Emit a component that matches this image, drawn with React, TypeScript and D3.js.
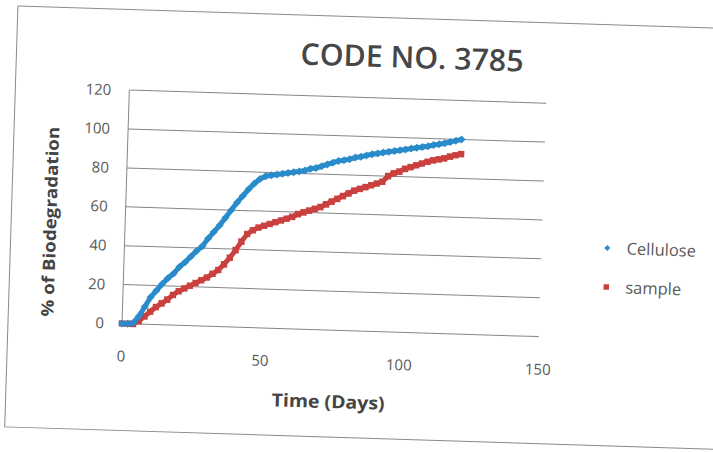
import React from 'react';
import * as d3 from 'd3';

const chartTitle = 'CODE NO. 3785';
const xTitle = 'Time (Days)';
const yTitle = '% of Biodegradation';
const seriesNames = ['Cellulose', 'sample'];
const xTicks = [0, 50, 100, 150];
const yTicks = [0, 20, 40, 60, 80, 100, 120];

const days = [
  0, 2, 4, 6, 8, 10, 12, 14, 16, 18, 20, 22, 24, 26, 28, 30, 32, 34, 36, 38, 40,
  42, 44, 46, 48, 50, 52, 54, 56, 58, 60, 62, 64, 66, 68, 70, 72, 74, 76, 78, 80,
  82, 84, 86, 88, 90, 92, 94, 96, 98, 100, 102, 104, 106, 108, 110, 112, 114, 116, 118, 120,
];

const cellulose = [
  0, 0, 0.5, 4, 9, 14, 17.5, 21, 24, 26.5, 30, 32.5, 35.5, 38.5, 41, 45, 48.5, 52, 56, 60, 64,
  67.5, 71, 74, 76.5, 78, 78.5, 79, 79.5, 80, 80.5, 81, 81.5, 82.5, 83, 84, 85, 86, 87, 87.5, 88,
  89, 89.5, 90.3, 91, 91.5, 92, 92.5, 93, 93.5, 94, 94.5, 95, 95.5, 96, 96.7, 97.2, 97.8, 98.5, 99.3, 100,
];

const sample = [
  0, 0, 0, 1.5, 4, 6.5, 9, 11, 13, 15.5, 17.5, 19, 20.5, 22, 23.5, 25, 27, 29, 32, 35.5, 39.5,
  44, 48, 50, 51.5, 52.5, 53.5, 54.5, 55.5, 56.5, 57.5, 59, 60, 61, 62, 63, 64.5, 66, 67.5, 69, 70.5,
  72, 73, 74, 75, 76, 77, 80, 81.5, 82.5, 84, 85, 86, 87, 88, 88.8, 89.4, 90, 91, 91.8, 92.5,
];

const BLUE = '#2a8bcb';
const RED = '#c9403e';
const GRID = '#858585';
const TXT = '#595959';
const FONT = '"Open Sans", "DejaVu Sans", sans-serif';

export default function App() {
  const W = 713;
  const H = 452;
  const left = 122;
  const bottom = 323.5;
  const pw = 417;
  const ph = 233.5;

  const x = d3.scaleLinear().domain([0, 150]).range([left, left + pw]);
  const y = d3.scaleLinear().domain([0, 120]).range([bottom, bottom - ph]);

  const mkLine = (vals: number[]) =>
    d3
      .line<number>()
      .x((_, i) => x(days[i]))
      .y((d) => y(d))(vals) || '';

  const r = 4;
  const diamond = `M0,${-r}L${r},0L0,${r}L${-r},0Z`;
  const s = 3.2;
  const square = `M${-s},${-s}H${s}V${s}H${-s}Z`;

  return (
    <svg width={W} height={H} style={{ position: 'absolute', left: 0, top: 0 }}>
      <rect width={W} height={H} fill="#ffffff" />
      <g transform={`rotate(1.8 ${left} ${bottom})`}>
        <rect x={8} y={9.5} width={730} height={421} fill="none" stroke="#8a8a8a" strokeWidth={1} />

        <text
          x={403.6}
          y={59}
          textAnchor="middle"
          fontFamily={FONT}
          fontWeight={600}
          fontSize={30}
          fill="#464646"
          textLength={223}
          lengthAdjust="spacingAndGlyphs"
        >
          {chartTitle}
        </text>

        {yTicks.map((t) => (
          <line key={'g' + t} x1={x(0)} x2={x(150)} y1={y(t)} y2={y(t)} stroke={GRID} strokeWidth={1} />
        ))}
        <line x1={x(0)} x2={x(0)} y1={y(0)} y2={y(120)} stroke={GRID} strokeWidth={1} />

        {yTicks.map((t) => (
          <text
            key={'yl' + t}
            x={104}
            y={y(t)}
            dy="0.36em"
            textAnchor="end"
            fontFamily={FONT}
            fontSize={15}
            fill={TXT}
          >
            {t}
          </text>
        ))}
        {xTicks.map((t) => (
          <text
            key={'xl' + t}
            x={x(t)}
            y={bottom + 38}
            textAnchor="middle"
            fontFamily={FONT}
            fontSize={15}
            fill={TXT}
          >
            {t}
          </text>
        ))}

        <text
          x={330.5}
          y={401.5}
          textAnchor="middle"
          fontFamily={FONT}
          fontWeight={700}
          fontSize={18}
          fill="#454545"
          textLength={113}
          lengthAdjust="spacingAndGlyphs"
        >
          {xTitle}
        </text>
        <text
          transform={`translate(47,224) rotate(-90)`}
          textAnchor="middle"
          dy="0.36em"
          fontFamily={FONT}
          fontWeight={700}
          fontSize={17}
          fill="#454545"
          textLength={190}
          lengthAdjust="spacingAndGlyphs"
        >
          {yTitle}
        </text>

        <path d={mkLine(sample)} fill="none" stroke={RED} strokeWidth={5} />
        {sample.map((v, i) => (
          <path key={'s' + i} d={square} transform={`translate(${x(days[i])},${y(v)})`} fill={RED} />
        ))}
        <path d={mkLine(cellulose)} fill="none" stroke={BLUE} strokeWidth={5} />
        {cellulose.map((v, i) => (
          <path key={'c' + i} d={diamond} transform={`translate(${x(days[i])},${y(v)})`} fill={BLUE} />
        ))}

        <path d={diamond} transform="translate(604.7,232.8) scale(0.75)" fill={BLUE} />
        <text x={624} y={232.8} dy="0.36em" fontFamily={FONT} fontSize={16.5} fill={TXT}>
          {seriesNames[0]}
        </text>
        <path d={square} transform="translate(604.9,271.8) scale(0.85)" fill={RED} />
        <text x={624} y={271.8} dy="0.36em" fontFamily={FONT} fontSize={16.5} fill={TXT}>
          {seriesNames[1]}
        </text>
      </g>
    </svg>
  );
}
